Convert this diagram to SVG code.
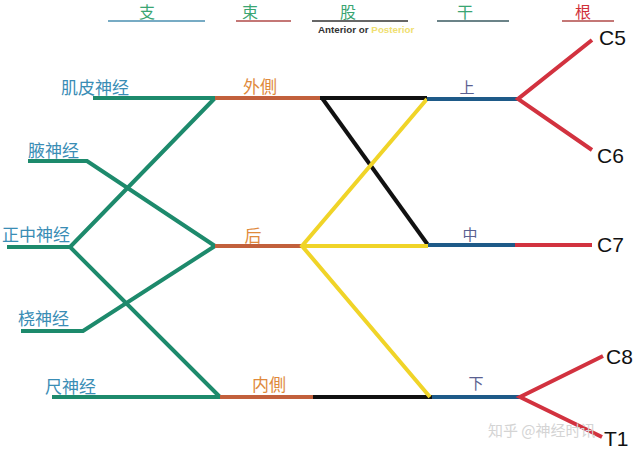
<svg xmlns="http://www.w3.org/2000/svg" width="640" height="457" viewBox="0 0 640 457">
<style>
.ln{fill:none;stroke-width:4;stroke-linecap:butt;stroke-linejoin:miter}
.g{stroke:#1d8a6c}.o{stroke:#c2603c}.k{stroke:#111}.y{stroke:#f0d428}.b{stroke:#1e5a88}.r{stroke:#d2323f}
.hd{font-family:"Noto Sans CJK SC",sans-serif;font-size:16px;text-anchor:middle}
.nv{font-family:"Noto Sans CJK SC",sans-serif;font-size:17px;fill:#3a8db5}
.cd{font-family:"Noto Sans CJK SC",sans-serif;font-size:17px;fill:#e08a3c;text-anchor:middle}
.tk{font-family:"Noto Sans CJK SC",sans-serif;font-size:15px;fill:#5a6090;text-anchor:middle}
.rt{font-family:"Liberation Sans",Arial,sans-serif;font-size:21px;fill:#111}
.ul{stroke-width:1.5}
</style>
<rect width="640" height="457" fill="#fff"/>
<g id="header">
<text class="hd" x="147" y="18" fill="#3aa572">支</text>
<line class="ul" x1="108" y1="21" x2="205" y2="21" stroke="#4a8fb0"/>
<text class="hd" x="250" y="18" fill="#3aa572">束</text>
<line class="ul" x1="236" y1="21" x2="291" y2="21" stroke="#b04a48"/>
<text class="hd" x="348" y="18" fill="#3aa572">股</text>
<line class="ul" x1="312" y1="21" x2="408" y2="21" stroke="#333"/>
<text x="318" y="33" font-family="Liberation Sans,Arial,sans-serif" font-size="9.8" font-weight="bold" fill="#333">Anterior or <tspan fill="#f0e070">Posterior</tspan></text>
<text class="hd" x="465" y="18" fill="#3aa572">干</text>
<line class="ul" x1="437" y1="21" x2="509" y2="21" stroke="#3a5a60"/>
<text class="hd" x="583" y="18" fill="#d03038">根</text>
<line class="ul" x1="562" y1="21" x2="614" y2="21" stroke="#b04a48"/>
</g>
<g id="connectors">
<polyline class="ln g" points="93,98 215,98"/>
<polyline class="ln g" points="28,161 87,161 215,246"/>
<polyline class="ln g" points="7,247 70,247"/>
<polyline class="ln g" points="215,98 70,247 220,397"/>
<polyline class="ln g" points="21,331 83,331 215,246"/>
<polyline class="ln g" points="52,397 220,397"/>
<line class="ln o" x1="215" y1="98" x2="321" y2="98"/>
<line class="ln o" x1="215" y1="246" x2="302" y2="246"/>
<line class="ln o" x1="220" y1="397" x2="313" y2="397"/>
<polyline class="ln k" points="320,98 427,98"/>
<polyline class="ln k" points="322,98 428,245"/>
<line class="ln k" x1="313" y1="397" x2="432" y2="397"/>
<polyline class="ln y" points="427,99 302,246 430,397"/>
<line class="ln y" x1="302" y1="246" x2="428" y2="246"/>
<line class="ln b" x1="427" y1="99" x2="518" y2="99"/>
<line class="ln b" x1="428" y1="245" x2="515" y2="245"/>
<line class="ln b" x1="432" y1="397" x2="520" y2="397"/>
<polyline class="ln r" points="592,40 518,99 592,150"/>
<line class="ln r" x1="515" y1="245" x2="592" y2="245"/>
<polyline class="ln r" points="603,356 520,397 602,437"/>
</g>
<g id="n-musculocutaneous"><text class="nv" x="61" y="94">肌皮神经</text></g>
<g id="n-axillary"><text class="nv" x="28" y="157">腋神经</text></g>
<g id="n-median"><text class="nv" x="2" y="241">正中神经</text></g>
<g id="n-radial"><text class="nv" x="18" y="325">桡神经</text></g>
<g id="n-ulnar"><text class="nv" x="45" y="393">尺神经</text></g>
<g id="c-lateral"><text class="cd" x="260" y="93">外側</text></g>
<g id="c-posterior"><text class="cd" x="253" y="242">后</text></g>
<g id="c-medial"><text class="cd" x="269" y="391">内側</text></g>
<g id="t-upper"><text class="tk" x="467" y="93">上</text></g>
<g id="t-middle"><text class="tk" x="470" y="240">中</text></g>
<g id="t-lower"><text class="tk" x="476" y="389">下</text></g>
<g id="r-c5"><text class="rt" x="599" y="45">C5</text></g>
<g id="r-c6"><text class="rt" x="597" y="163">C6</text></g>
<g id="r-c7"><text class="rt" x="597" y="252">C7</text></g>
<g id="r-c8"><text class="rt" x="606" y="364">C8</text></g>
<g id="r-t1"><text class="rt" x="604" y="446">T1</text></g>
<text x="488" y="436" font-family="Noto Sans CJK SC,sans-serif" font-size="15" fill="#d4d4d4">知乎 @神经时讯</text>
</svg>
